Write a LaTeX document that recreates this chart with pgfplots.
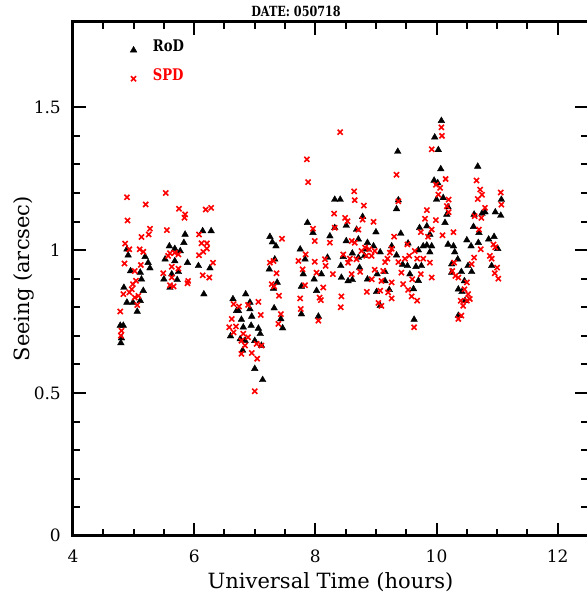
\documentclass[border=0pt]{standalone}
\usepackage{pgfplots}
\pgfplotsset{compat=1.18}
\usepackage{fontspec}
\setmainfont{DejaVu Serif}
\usepackage{graphicx}
\definecolor{spdred}{RGB}{255,0,0}

\begin{document}
\begin{tikzpicture}
\begin{axis}[
  at={(0pt,0pt)}, anchor=south west,
  scale only axis, width=515pt, height=514.2pt,
  xmin=4, xmax=12.5, ymin=0, ymax=1.8,
  xtick={4,6,8,10,12}, minor x tick num=3,
  ytick={0,0.5,1,1.5}, minor y tick num=4,
  tick align=inside,
  major tick length=13pt, minor tick length=7pt,
  axis line style={line width=3pt},
  tick style={black, line width=2pt},
  /pgf/number format/assume math mode=true,
  tick label style={font=\fontsize{17}{17}\selectfont},
  yticklabel style={inner sep=0pt, xshift=-12pt},
  xticklabel style={inner sep=0pt, yshift=-14pt},
]
% RoD
\addplot[only marks, mark=triangle*, mark size=3.8pt, mark options={fill=black, draw=black, line width=0.4pt}] coordinates {
(5.85,1.055) (5.83,1.026) (6.14,1.067) (6.28,1.067) (5.59,1.014) (5.68,1.005) (5.77,0.997)
(4.89,1.003) (4.91,0.982) (5.19,0.977) (5.24,0.956) (5.27,0.937) (5.89,0.956) (6.07,0.945)
(6.26,0.937) (5.52,0.968) (5.68,0.962) (4.95,0.927) (5.11,0.922) (5.13,0.898) (5.74,0.924)
(5.63,0.916) (5.50,0.898) (5.72,0.896) (5.60,0.869) (6.16,0.846) (4.84,0.869) (5.16,0.858)
(4.89,0.817) (4.99,0.817) (5.11,0.823) (5.06,0.785) (4.78,0.736) (4.83,0.736) (4.80,0.692)
(4.79,0.675)
(6.64,0.829) (6.85,0.846) (6.92,0.817) (6.73,0.788) (6.70,0.788) (6.92,0.794) (6.95,0.768)
(6.78,0.757) (6.81,0.730) (6.94,0.736) (7.06,0.726) (7.09,0.707) (6.60,0.699) (6.76,0.689)
(6.84,0.683) (7.00,0.683) (7.11,0.666) (6.80,0.649) (7.00,0.585) (7.13,0.546) (7.25,1.047)
(7.29,1.028) (7.35,1.014) (7.33,0.968) (7.24,0.933) (7.37,0.887) (7.31,0.866) (7.32,0.797)
(7.43,0.759) (7.46,0.727) (7.87,1.096) (7.96,1.061) (7.75,1.003) (7.83,0.968) (7.80,0.916)
(7.77,0.873) (7.98,0.898) (8.02,0.858) (7.77,0.776) (8.05,0.768) (8.24,1.049) (8.20,0.974)
(8.10,0.916)
(10.08,1.453) (9.97,1.395) (10.03,1.351) (9.36,1.345) (10.07,1.284) (9.96,1.244) (10.02,1.235)
(10.00,1.177) (9.37,1.175) (9.34,1.144) (8.32,1.177) (8.41,1.177) (8.78,1.117) (8.51,1.086)
(8.32,1.078) (8.68,1.072) (9.00,1.063) (9.41,1.058) (9.84,1.084) (9.72,1.078) (9.89,1.055)
(8.51,1.032) (8.71,1.038) (8.86,1.026) (8.96,1.014) (8.84,1.003) (9.26,1.014) (9.53,1.024)
(9.84,1.017) (9.78,1.014) (9.92,1.014) (9.89,0.993) (9.70,1.000) (8.61,0.989) (8.71,0.974)
(8.81,0.980) (9.07,0.993) (8.46,0.977) (8.42,0.945) (8.73,0.939) (9.44,0.950) (9.34,0.982)
(9.52,0.945) (9.66,0.942) (9.75,0.945) (8.43,0.904) (8.54,0.892) (8.61,0.896) (9.02,0.916)
(9.15,0.924) (8.86,0.898) (9.15,0.892) (9.01,0.854) (9.22,0.861) (9.56,0.916) (9.62,0.864)
(9.70,0.893) (9.07,0.805) (9.63,0.757)
(10.11,1.183) (10.19,1.151) (10.17,1.125) (10.14,1.096) (10.19,1.020) (10.28,1.014) (10.30,0.993)
(10.35,0.968) (10.25,0.951) (10.25,0.922) (10.41,0.924) (10.58,0.924) (10.52,0.945) (10.50,1.035)
(10.57,1.014) (10.69,1.026) (10.68,1.293) (10.61,1.082) (10.62,1.125) (10.70,1.061) (10.75,1.128)
(10.80,1.133) (10.97,1.133) (11.06,1.121) (11.07,1.177) (10.86,1.038) (10.95,1.047) (11.01,1.005)
(10.91,0.945) (10.46,0.892) (10.36,0.863) (10.42,0.854) (10.47,0.823) (10.36,0.771)
};
% SPD
\addplot[only marks, mark=x, mark size=3.6pt, color=spdred, mark options={line width=1.6pt}] coordinates {
(4.89,1.185) (5.20,1.160) (5.53,1.200) (4.90,1.104) (5.75,1.145) (5.85,1.125) (5.84,1.113)
(6.19,1.142) (6.28,1.148) (5.27,1.075) (5.25,1.055) (5.13,1.046) (5.55,1.070) (6.08,1.055)
(4.86,1.023) (4.93,1.003) (5.10,1.003) (5.16,0.994) (6.12,1.024) (6.21,1.024) (6.21,1.005)
(5.60,0.989) (5.68,0.991) (5.74,0.985) (5.57,0.980) (6.08,0.982) (6.15,0.994) (4.85,0.953)
(5.12,0.948) (6.31,0.956) (5.63,0.942) (5.74,0.935) (5.02,0.927) (5.49,0.919) (5.63,0.904)
(6.14,0.912) (6.25,0.904) (5.90,0.892) (5.89,0.884) (5.60,0.877) (5.66,0.873) (4.99,0.881)
(5.04,0.893) (4.97,0.863) (4.93,0.852) (4.83,0.846) (5.08,0.840) (5.02,0.834) (5.06,0.808)
(4.78,0.785) (4.80,0.718) (4.79,0.701)
(7.45,1.040) (7.25,0.956) (7.31,0.962) (7.36,0.919) (7.28,0.881) (7.32,0.873) (7.40,0.840)
(7.06,0.819) (6.89,0.808) (6.65,0.811) (6.74,0.803) (7.10,0.773) (6.62,0.759) (6.58,0.730)
(6.69,0.733) (6.65,0.712) (6.81,0.707) (6.89,0.695) (6.78,0.683) (7.03,0.672) (7.11,0.666)
(6.84,0.666) (6.78,0.637) (6.95,0.640) (7.04,0.620) (7.00,0.506) (7.43,0.776) (7.39,0.742)
(7.96,1.075) (7.99,1.032) (8.31,1.128) (8.32,1.078) (8.24,1.026) (7.72,0.962) (7.84,0.985)
(7.99,0.959) (8.16,0.968) (7.79,0.933) (8.17,0.945) (8.29,0.916) (8.02,0.921) (7.83,0.877)
(8.13,0.869) (7.75,0.831) (8.07,0.834) (7.76,0.794) (8.09,0.825) (8.05,0.753) (7.86,1.318)
(7.88,1.238)
(8.41,1.413) (8.64,1.206) (8.65,1.175) (8.80,1.156) (8.49,1.113) (8.53,1.101) (8.78,1.107)
(8.96,1.099) (9.34,1.264) (9.37,1.171) (9.30,1.047) (8.71,1.072) (8.60,1.032) (8.65,1.026)
(8.82,1.009) (8.89,1.003) (8.76,0.997) (8.98,0.997) (8.46,0.985) (8.57,0.970) (8.68,0.968)
(8.84,0.980) (8.93,0.980) (9.19,0.970) (9.23,0.991) (9.26,1.005) (9.52,1.020) (9.55,0.980)
(9.48,0.970) (9.64,0.997) (9.68,0.970) (9.74,1.063) (9.84,1.140) (9.81,1.110) (9.99,1.105)
(9.92,1.072) (9.86,1.047) (10.10,1.052) (9.78,0.970) (9.89,0.956) (9.92,0.904) (9.37,0.958)
(9.15,0.958) (8.54,0.956) (8.74,0.924) (8.60,0.916) (8.98,0.931) (9.12,0.927) (8.93,0.898)
(9.09,0.892) (9.26,0.887) (9.42,0.921) (9.45,0.881) (9.53,0.861) (9.60,0.898) (9.74,0.916)
(8.85,0.854) (9.07,0.858) (9.20,0.852) (9.26,0.831) (9.04,0.815) (9.09,0.805) (8.43,0.838)
(8.42,0.800) (9.59,0.838) (9.68,0.823) (9.63,0.730) (9.92,1.353) (10.08,1.430) (10.09,1.400)
(9.99,1.229) (10.06,1.218) (10.03,1.194)
(10.15,1.249) (10.20,1.177) (10.17,1.154) (10.20,1.133) (10.28,1.063) (10.66,1.244) (10.72,1.212)
(10.75,1.194) (10.68,1.179) (11.06,1.202) (11.07,1.159) (10.80,1.148) (10.63,1.119) (10.74,1.113)
(10.70,1.072) (10.73,1.003) (10.94,1.020) (10.97,1.010) (10.88,0.980) (10.91,0.970) (10.62,0.974)
(10.58,0.951) (10.29,0.956) (10.26,0.927) (10.31,0.910) (10.36,0.904) (11.00,0.939) (10.96,0.919)
(11.02,0.900) (10.50,0.887) (10.46,0.863) (10.52,0.846) (10.40,0.823) (10.50,0.823) (10.55,0.829)
(10.44,0.805) (10.41,0.771) (10.36,0.759)
};
% legend markers
\addplot[only marks, mark=triangle*, mark size=3.8pt, mark options={fill=black, draw=black, line width=0.4pt}] coordinates {(5,1.70)};
\addplot[only marks, mark=x, mark size=3.6pt, color=spdred, mark options={line width=1.6pt}] coordinates {(5,1.60)};
\node[anchor=base west, inner sep=0pt, font=\bfseries\fontsize{16}{16}\selectfont] at (axis cs:5.315,1.694) {\scalebox{0.82}[1]{RoD}};
\node[anchor=base west, inner sep=0pt, text=spdred, font=\bfseries\fontsize{16}{16}\selectfont] at (axis cs:5.315,1.595) {\scalebox{0.82}[1]{SPD}};
\end{axis}
\node[anchor=base, inner sep=0pt, font=\bfseries\fontsize{14}{14}\selectfont] at (223pt,519.1pt) {\scalebox{0.8}[1]{DATE: 050718}};
\node[anchor=base, inner sep=0pt, font=\fontsize{21}{21}\selectfont] at (257.5pt,-52.5pt) {Universal Time (hours)};
\node[anchor=base, rotate=90, inner sep=0pt, font=\fontsize{21}{21}\selectfont] at (-43.7pt,257.1pt) {Seeing (arcsec)};
\pgfresetboundingbox
\useasboundingbox (-73pt,-60.2pt) rectangle (513.5pt,535.8pt);
\end{tikzpicture}
\end{document}
